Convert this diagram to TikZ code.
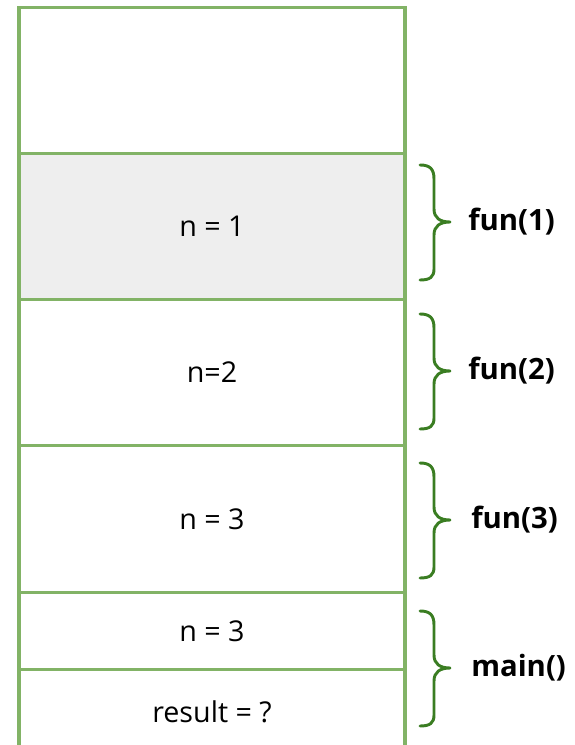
\documentclass[tikz,border=0pt]{standalone}
\usepackage{fontspec}
\setmainfont{Open Sans}
\definecolor{cellline}{HTML}{82B366}
\definecolor{cellfill}{HTML}{EEEEEE}
\definecolor{bracecol}{HTML}{3A7D22}
\tikzset{
  cell/.style={draw=cellline, line width=2.3pt, minimum width=289.5pt, inner sep=0pt,
               font=\fontsize{21.5}{25}\selectfont, anchor=north},
  brc/.style={draw=bracecol, line width=2.2pt, line cap=round, line join=round},
  lbl/.style={font=\fontsize{22}{26}\selectfont\bfseries, anchor=west, inner sep=0pt}
}
\begin{document}
\begin{tikzpicture}[x=0.75pt,y=-0.75pt]
\useasboundingbox (0,0) rectangle (574,745);
% call stack cells
\node[cell, minimum height=109.5pt] (top) at (212,6) {};
\node[cell, minimum height=109.5pt, fill=cellfill] (f1) at (212,152) {n = 1};
\node[cell, minimum height=109.5pt] (f2) at (212,298) {n=2};
\node[cell, minimum height=110.25pt] (f3) at (212,444) {n = 3};
\node[cell, minimum height=57.75pt] (m1) at (212,591) {n = 3};
\node[cell, minimum height=63pt] (m2) at (212,668) {result = ?};
% braces and frame labels
\foreach \c/\lab/\x/\nm in {222/fun(1)/468/b1, 371/fun(2)/468/b2, 520/fun(3)/471/b3, 668/main()/471/b4}{
  \coordinate (\nm tip) at (450,\c);
  \draw[brc] (420,\c-57) .. controls (430,\c-57) and (434,\c-53) .. (434,\c-43)
    -- (434,\c-13) .. controls (434,\c-4) and (440,\c) .. (\nm tip)
    .. controls (440,\c) and (434,\c+4) .. (434,\c+13)
    -- (434,\c+47) .. controls (434,\c+55) and (430,\c+58) .. (420,\c+58);
  \node[lbl] (\nm lab) at (\x,\c) {\lab};
}
\end{tikzpicture}
\end{document}
